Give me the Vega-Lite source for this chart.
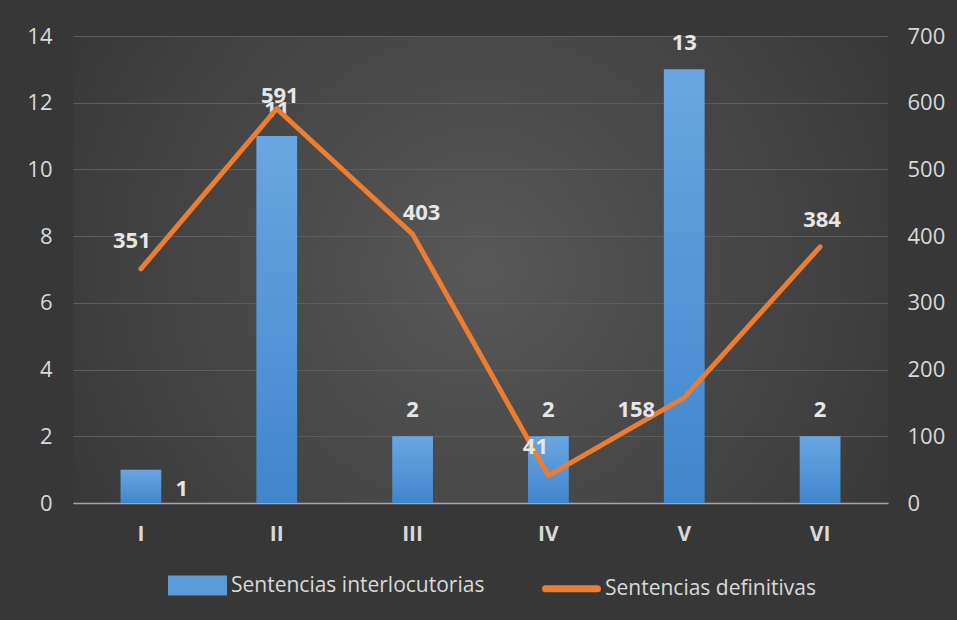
{
  "$schema": "https://vega.github.io/schema/vega-lite/v6.json",
  "width": 815,
  "height": 467,
  "autosize": {"type": "none"},
  "padding": {"left": 73, "top": 36, "right": 69, "bottom": 117},
  "background": "#373737",
  "view": {
    "stroke": null,
    "fill": {
      "gradient": "radial",
      "x1": 0.5, "y1": 0.5, "r1": 0,
      "x2": 0.5, "y2": 0.5, "r2": 0.6,
      "stops": [
        {"offset": 0, "color": "#585858"},
        {"offset": 1, "color": "#373737"}
      ]
    }
  },
  "config": {
    "font": "Open Sans",
    "axis": {"labelFont": "Open Sans", "labelColor": "#d9d9d9", "labelFontSize": 22, "titleColor": "#d9d9d9"},
    "text": {"font": "Open Sans"}
  },
  "data": {
    "values": [
      {"cat": "I", "inter": 1, "def": 351},
      {"cat": "II", "inter": 11, "def": 591},
      {"cat": "III", "inter": 2, "def": 403},
      {"cat": "IV", "inter": 2, "def": 41},
      {"cat": "V", "inter": 13, "def": 158},
      {"cat": "VI", "inter": 2, "def": 384}
    ]
  },
  "encoding": {
    "x": {
      "field": "cat",
      "type": "nominal",
      "sort": null,
      "title": null,
      "scale": {"paddingInner": 0.7, "paddingOuter": 0.35},
      "axis": {
        "labelAngle": 0,
        "labelFontWeight": "bold",
        "labelFontSize": 21,
        "labelPadding": 20,
        "ticks": false,
        "domainColor": "#a6a6a6",
        "domainWidth": 1.5,
        "grid": false
      }
    }
  },
  "layer": [
    {
      "encoding": {
        "y": {
          "field": "inter",
          "type": "quantitative",
          "title": null,
          "scale": {"domain": [0, 14], "nice": false},
          "axis": {
            "orient": "left",
            "values": [0, 2, 4, 6, 8, 10, 12, 14],
            "domain": false,
            "ticks": false,
            "labelPadding": 21,
            "grid": true,
            "gridColor": "#5e5e5e",
            "gridWidth": 1
          }
        }
      },
      "layer": [
        {
          "mark": {
            "type": "bar",
            "fill": {
              "gradient": "linear",
              "x1": 0, "y1": 0, "x2": 0, "y2": 1,
              "stops": [
                {"offset": 0, "color": "#6aa6e2"},
                {"offset": 1, "color": "#4086cc"}
              ]
            }
          }
        },
        {
          "transform": [{"filter": "datum.cat !== 'I'"}],
          "mark": {"type": "text", "baseline": "middle", "dy": -26, "fontSize": 22, "fontWeight": "bold", "color": "#e6e6e6"},
          "encoding": {"text": {"field": "inter", "type": "quantitative"}}
        },
        {
          "transform": [{"filter": "datum.cat === 'I'"}],
          "mark": {"type": "text", "baseline": "middle", "dx": 41, "dy": 19, "fontSize": 22, "fontWeight": "bold", "color": "#e6e6e6"},
          "encoding": {"text": {"field": "inter", "type": "quantitative"}}
        }
      ]
    },
    {
      "encoding": {
        "y": {
          "field": "def",
          "type": "quantitative",
          "title": null,
          "scale": {"domain": [0, 700], "nice": false},
          "axis": {
            "orient": "right",
            "values": [0, 100, 200, 300, 400, 500, 600, 700],
            "domain": false,
            "ticks": false,
            "labelPadding": 19,
            "grid": false
          }
        }
      },
      "layer": [
        {
          "mark": {"type": "line", "strokeWidth": 5, "strokeJoin": "round", "strokeCap": "round"},
          "encoding": {
            "color": {
              "datum": "Sentencias definitivas",
              "type": "nominal",
              "scale": {
                "domain": ["Sentencias interlocutorias", "Sentencias definitivas"],
                "range": ["#5b9bd5", "#ed7d31"]
              },
              "legend": {
                "title": null,
                "orient": "none",
                "direction": "horizontal",
                "legendX": 95,
                "legendY": 520,
                "labelFont": "Open Sans",
                "labelFontSize": 21,
                "labelColor": "#d9d9d9",
                "labelLimit": 500,
                "symbolSize": 2704,
                "labelOffset": 4,
                "columnPadding": 46,
                "symbolStrokeWidth": 6,
                "encode": {
                  "symbols": {
                    "update": {
                      "shape": {"signal": "datum.value === 'Sentencias definitivas' ? 'M-1,0H1' : 'M-1,-0.25H1V0.25H-1Z'"},
                      "fill": {"signal": "datum.value === 'Sentencias definitivas' ? 'transparent' : '#5b9bd5'"},
                      "stroke": {"signal": "datum.value === 'Sentencias definitivas' ? '#ed7d31' : 'transparent'"},
                      "strokeWidth": {"value": 7},
                      "strokeCap": {"value": "round"}
                    }
                  }
                }
              }
            }
          }
        },
        {
          "transform": [{"filter": "datum.cat === 'I'"}],
          "mark": {"type": "text", "baseline": "middle", "dx": -9, "dy": -28, "fontSize": 22, "fontWeight": "bold", "color": "#e6e6e6"},
          "encoding": {"text": {"field": "def", "type": "quantitative"}}
        },
        {
          "transform": [{"filter": "datum.cat === 'II'"}],
          "mark": {"type": "text", "baseline": "middle", "dx": 3, "dy": -13, "fontSize": 22, "fontWeight": "bold", "color": "#e6e6e6"},
          "encoding": {"text": {"field": "def", "type": "quantitative"}}
        },
        {
          "transform": [{"filter": "datum.cat === 'III'"}],
          "mark": {"type": "text", "baseline": "middle", "dx": 9, "dy": -21, "fontSize": 22, "fontWeight": "bold", "color": "#e6e6e6"},
          "encoding": {"text": {"field": "def", "type": "quantitative"}}
        },
        {
          "transform": [{"filter": "datum.cat === 'IV'"}],
          "mark": {"type": "text", "baseline": "middle", "dx": -13, "dy": -29, "fontSize": 22, "fontWeight": "bold", "color": "#e6e6e6"},
          "encoding": {"text": {"field": "def", "type": "quantitative"}}
        },
        {
          "transform": [{"filter": "datum.cat === 'V'"}],
          "mark": {"type": "text", "baseline": "middle", "dx": -48, "dy": 12, "fontSize": 22, "fontWeight": "bold", "color": "#e6e6e6"},
          "encoding": {"text": {"field": "def", "type": "quantitative"}}
        },
        {
          "transform": [{"filter": "datum.cat === 'VI'"}],
          "mark": {"type": "text", "baseline": "middle", "dx": 2, "dy": -27, "fontSize": 22, "fontWeight": "bold", "color": "#e6e6e6"},
          "encoding": {"text": {"field": "def", "type": "quantitative"}}
        }
      ]
    }
  ],
  "resolve": {"scale": {"y": "independent"}}
}
